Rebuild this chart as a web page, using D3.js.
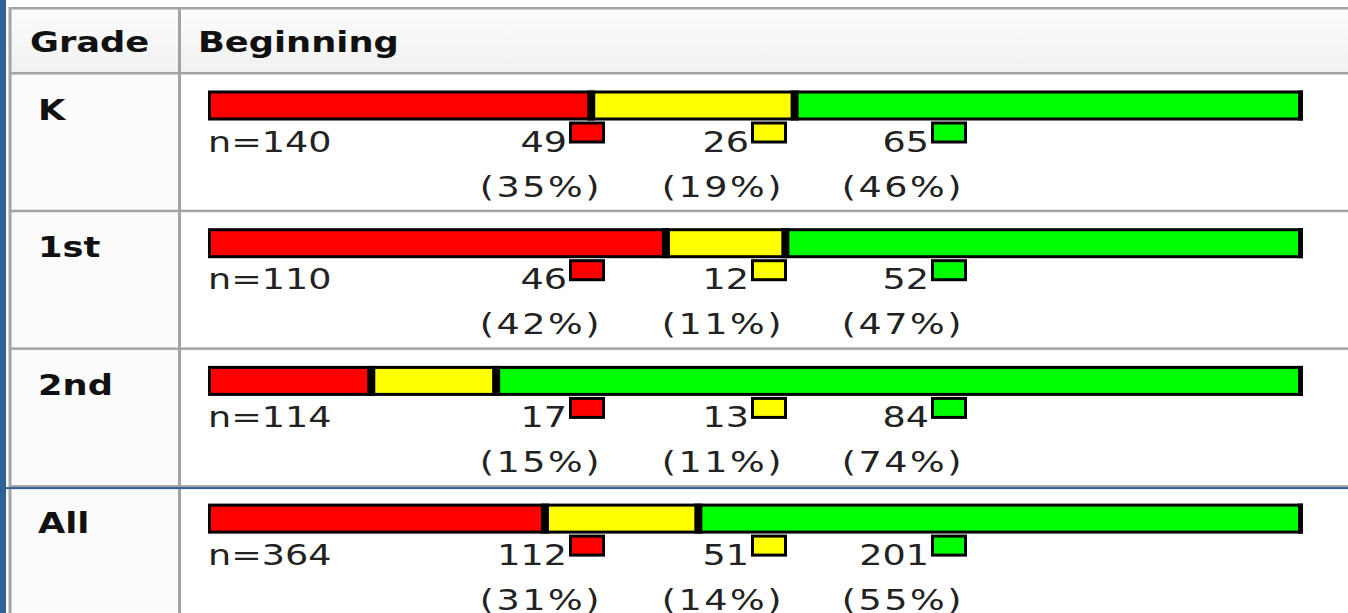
<!DOCTYPE html>
<html>
<head>
<meta charset="utf-8">
<script src="https://cdn.jsdelivr.net/npm/d3@7/dist/d3.min.js"></script>
<style>
  html, body { margin: 0; padding: 0; background: #fff; }
  svg { display: block; }
  text { font-family: "DejaVu Sans", Verdana, sans-serif; }
</style>
</head>
<body>
<svg id="chart" width="1348" height="613"></svg>
<script>
// Grade-level screening results, "Beginning" period
const headers = ["Grade", "Beginning"];
const grades = ["K", "1st", "2nd", "All"];
const totals = [140, 110, 114, 364];
const redCounts = [49, 46, 17, 112];
const yellowCounts = [26, 12, 13, 51];
const greenCounts = [65, 52, 84, 201];
const levelColors = ["#ff0000", "#ffff00", "#00ff00"];

// ---- layout ----
const W = 1348, H = 613;
const tableLeft = 10, tableTop = 8, headerBottom = 73.5, colDivider = 179.5;
const rowStep = 137.7;
const barLeft = 208, barRight = 1303, barOffset = 17, barHeight = 30;
const legendCols = [569, 751, 931];   // left edge of each legend swatch
const swatchW = 36, swatchH = 22;
const stretch = 1.26;                  // horizontal stretch of the lettering
const lineGray = "#a3a3a3", edgeBlue = "#2e6196";

const svg = d3.select("#chart");

const defs = svg.append("defs");
const grad = defs.append("linearGradient").attr("id", "hdr").attr("x1", 0).attr("x2", 0).attr("y1", 0).attr("y2", 1);
grad.append("stop").attr("offset", "0%").attr("stop-color", "#fcfcfc");
grad.append("stop").attr("offset", "100%").attr("stop-color", "#f1f1f1");

const rowScale = d3.scaleBand()
  .domain(grades)
  .range([headerBottom, headerBottom + grades.length * rowStep])
  .paddingInner(0).paddingOuter(0);

const x = d3.scaleLinear().domain([0, 1]).range([barLeft, barRight]);

// backgrounds
svg.append("rect").attr("x", tableLeft).attr("y", tableTop).attr("width", W - tableLeft).attr("height", headerBottom - tableTop)
  .attr("fill", "url(#hdr)");
svg.append("rect").attr("x", tableLeft).attr("y", headerBottom).attr("width", colDivider - tableLeft).attr("height", H - headerBottom)
  .attr("fill", "#fbfbfb");

function label(parent, tx, ty, str, opts) {
  const o = Object.assign({ size: 29, weight: "normal", anchor: "start", fill: "#222", spacing: 0 }, opts || {});
  return parent.append("text")
    .attr("transform", `translate(${tx},${ty}) scale(${stretch},1)`)
    .attr("text-anchor", o.anchor)
    .attr("font-size", o.size)
    .attr("font-weight", o.weight)
    .attr("letter-spacing", o.spacing)
    .attr("fill", o.fill)
    .text(str);
}

// header text
label(svg, 30, 52, headers[0], { size: 28, weight: "bold", fill: "#111" });
label(svg, 198, 52, headers[1], { size: 28, weight: "bold", fill: "#111" });

// rows
const rows = grades.map((g, i) => {
  const counts = [redCounts[i], yellowCounts[i], greenCounts[i]];
  let acc = 0;
  const segs = counts.map((c, k) => {
    const s = { k, count: c, x0: acc / totals[i], x1: (acc + c) / totals[i] };
    acc += c;
    return s;
  });
  return { grade: g, total: totals[i], counts, segs };
});

const rowG = svg.selectAll("g.row").data(rows).join("g")
  .attr("class", "row")
  .attr("transform", d => `translate(0,${rowScale(d.grade)})`);

// grade label
rowG.each(function (d) {
  label(d3.select(this), 38, 46, d.grade, { size: 28, weight: "bold", fill: "#111" });
});

// stacked bar segments
rowG.selectAll("rect.seg").data(d => d.segs).join("rect")
  .attr("class", "seg")
  .attr("x", s => x(s.x0) + 1.5)
  .attr("y", barOffset + 1.5)
  .attr("width", s => Math.max(0, x(s.x1) - x(s.x0) - 3))
  .attr("height", barHeight - 3)
  .attr("fill", s => levelColors[s.k])
  .attr("stroke", "#000")
  .attr("stroke-width", 3);

// heavy dividers between segments and at the bar end
rowG.selectAll("rect.div").data(d => d.segs).join("rect")
  .attr("class", "div")
  .attr("x", (s, j, n) => j === n.length - 1 ? x(s.x1) - 5 : x(s.x1) - 4)
  .attr("y", barOffset)
  .attr("width", (s, j, n) => j === n.length - 1 ? 5 : 8)
  .attr("height", barHeight)
  .attr("fill", "#000");

// n= label
rowG.each(function (d) {
  label(d3.select(this), barLeft, 78, "n=" + d.total);
});

// counts, swatches and percentages
rowG.each(function (d) {
  const g = d3.select(this);
  d.counts.forEach((c, k) => {
    const lx = legendCols[k];
    g.append("rect")
      .attr("x", lx + 1.5).attr("y", barOffset + barHeight + 2.5)
      .attr("width", swatchW - 3).attr("height", swatchH - 3)
      .attr("fill", levelColors[k]).attr("stroke", "#000").attr("stroke-width", 3);
    label(g, lx - 2, 78, String(c), { anchor: "end" });
    const pct = Math.round(100 * c / d.total);
    label(g, lx + swatchW - 3, 123, `(${pct}%)`, { anchor: "end", spacing: 2 });
  });
});

// table rules
const rules = svg.append("g").attr("fill", lineGray);
rules.append("rect").attr("x", tableLeft - 1).attr("y", tableTop - 1).attr("width", W).attr("height", 2.5);
rules.append("rect").attr("x", tableLeft - 1.5).attr("y", tableTop - 1).attr("width", 3).attr("height", H);
rules.append("rect").attr("x", colDivider - 1.5).attr("y", tableTop - 1).attr("width", 3).attr("height", H);
rules.append("rect").attr("x", tableLeft).attr("y", headerBottom - 1.5).attr("width", W).attr("height", 2.5);
grades.slice(1).forEach(g => {
  rules.append("rect").attr("x", tableLeft).attr("y", rowScale(g) - 1.5).attr("width", W).attr("height", 2.5);
});

// blue page edge and the rule above the summary row
svg.append("rect").attr("x", 0).attr("y", 0).attr("width", 6).attr("height", H).attr("fill", edgeBlue);
svg.append("rect").attr("x", 5).attr("y", rowScale("All") + 0.5).attr("width", W).attr("height", 2).attr("fill", edgeBlue);
</script>
</body>
</html>
